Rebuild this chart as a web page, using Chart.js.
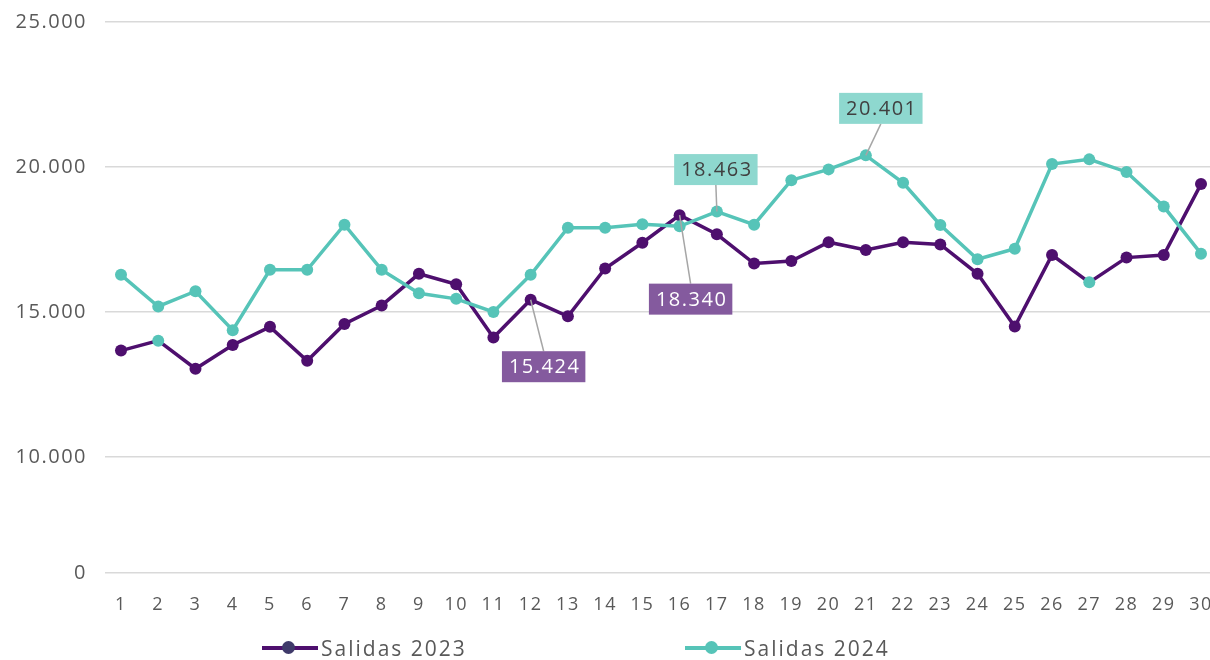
<!DOCTYPE html>
<html>
<head>
<meta charset="utf-8">
<script src="https://cdn.jsdelivr.net/npm/chart.js@4.4.1/dist/chart.umd.min.js"></script>
<style>
  html, body { margin: 0; padding: 0; background: #fff; overflow: hidden; }
  #wrap { position: relative; width: 1240px; height: 660px; }
  .leg { position: absolute; top: 634px; height: 28px; display: flex; align-items: center;
         font-family: "Open Sans", sans-serif; font-size: 21px; letter-spacing: 2px; color: #595959; }
  .leg .mk { position: relative; width: 56px; height: 28px; margin-right: 3px; }
  .leg .mk i { position: absolute; left: 0; right: 0; top: 12px; height: 4px; }
  .leg .mk b { position: absolute; left: 20px; top: 7px; width: 13px; height: 13px; border-radius: 50%; }
</style>
</head>
<body>
<div id="wrap">
  <canvas id="chart" width="1240" height="660"></canvas>
  <div class="leg" style="left:262px"><span class="mk"><i style="background:#4E0F6E"></i><b style="background:#3F3A6A"></b></span>Salidas 2023</div>
  <div class="leg" style="left:685px"><span class="mk"><i style="background:#56C4B8"></i><b style="background:#56C4B8"></b></span>Salidas 2024</div>
</div>
<script>
document.addEventListener("DOMContentLoaded", function() {
    const days = [1, 2, 3, 4, 5, 6, 7, 8, 9, 10, 11, 12, 13, 14, 15,
                  16, 17, 18, 19, 20, 21, 22, 23, 24, 25, 26, 27, 28, 29, 30];
    const salidas2023 = [13670, 14011, 13043, 13861, 14488, 13315, 14590, 15226, 16317, 15955,
                         14124, 15424, 14850, 16500, 17387, 18340, 17681, 16671, 16760, 17408,
                         17135, 17408, 17329, 16317, 14499, 16966, 16023, 16876, 16966, 19410];
    const salidas2024 = [16282, 15191, 15716, 14373, 16453, 16453, 18012, 16453, 15648, 15454,
                         15000, 16282, 17909, 17909, 18022, 17954, 18463, 18012, 19546, 19918,
                         20401, 19454, 18001, 16818, 17182, 20102, 20263, 19829, 18636, 17012];
    // broken axis: the bottom gridline stands for 0
    const yTicks = [6000, 10000, 15000, 20000, 25000];
    const yTickLabels = ['0', '10.000', '15.000', '20.000', '25.000'];

    const purple = '#4E0F6E';
    const teal = '#56C4B8';

    const fmt = v => String(v).replace(/\B(?=(\d{3})+(?!\d))/g, '.');

    // labelled points: dataset, day, box offset from the point
    const callouts = [
        { ds: 0, day: 12, dx: 13, dy: 67, bg: '#845A9E', fg: '#FFFFFF' },
        { ds: 0, day: 16, dx: 11, dy: 84, bg: '#845A9E', fg: '#FFFFFF' },
        { ds: 1, day: 17, dx: -1, dy: -42, bg: '#8ED8CF', fg: '#404040' },
        { ds: 1, day: 21, dx: 15, dy: -47, bg: '#8ED8CF', fg: '#404040' }
    ];

    const calloutPlugin = {
        id: 'callouts',
        beforeDraw(chart) {
            chart.ctx.letterSpacing = '1.5px';
        },
        afterDatasetsDraw(chart) {
            const ctx = chart.ctx;
            ctx.save();
            ctx.font = '20px "Open Sans", sans-serif';
            ctx.textAlign = 'center';
            ctx.textBaseline = 'middle';
            callouts.forEach(c => {
                const i = days.indexOf(c.day);
                const pt = chart.getDatasetMeta(c.ds).data[i];
                const value = chart.data.datasets[c.ds].data[i].y;
                const text = fmt(value);
                const w = ctx.measureText(text).width + 12;
                const h = 31;
                const bx = pt.x + c.dx, by = pt.y + c.dy;
                const ey = c.dy > 0 ? by - h / 2 : by + h / 2;
                ctx.strokeStyle = '#A6A6A6';
                ctx.lineWidth = 1.5;
                ctx.beginPath();
                ctx.moveTo(pt.x, pt.y);
                ctx.lineTo(bx, ey);
                ctx.stroke();
                ctx.fillStyle = c.bg;
                ctx.fillRect(bx - w / 2, by - h / 2, w, h);
                ctx.fillStyle = c.fg;
                ctx.fillText(text, bx + 1, by + 1);
            });
            ctx.restore();
        }
    };

    const toPoints = arr => days.map((d, i) => ({ x: d, y: arr[i] }));

    const ctx = document.getElementById('chart').getContext('2d');
    new Chart(ctx, {
        type: 'line',
        data: {
            datasets: [{
                label: 'Salidas 2023',
                data: toPoints(salidas2023),
                borderColor: purple,
                backgroundColor: purple,
                pointBackgroundColor: days.map(d => (d === 2 || d === 27) ? teal : purple),
                pointBorderColor: days.map(d => (d === 2 || d === 27) ? teal : purple),
                borderWidth: 3.5,
                pointRadius: 6,
                pointBorderWidth: 0,
                tension: 0,
                order: 1
            }, {
                label: 'Salidas 2024',
                data: toPoints(salidas2024),
                borderColor: teal,
                backgroundColor: teal,
                pointBackgroundColor: teal,
                pointBorderColor: teal,
                borderWidth: 3.5,
                pointRadius: 6,
                pointBorderWidth: 0,
                tension: 0,
                order: 0
            }]
        },
        options: {
            responsive: false,
            animation: false,
            layout: { padding: { top: 22, right: 30, bottom: 47, left: 0 } },
            plugins: {
                legend: { display: false },
                tooltip: { enabled: false }
            },
            scales: {
                x: {
                    type: 'linear',
                    min: 0.5704,
                    max: 30.2417,
                    afterBuildTicks: s => { s.ticks = days.map(v => ({ value: v })); },
                    afterFit: s => { s.height = 40; s.paddingLeft = 0; s.paddingRight = 0; },
                    grid: { display: false },
                    border: { display: false },
                    ticks: {
                        color: '#595959',
                        font: { family: '"Open Sans", sans-serif', size: 18 },
                        padding: 13,
                        maxRotation: 0,
                        autoSkip: false
                    }
                },
                y: {
                    min: 6000,
                    max: 25000,
                    afterBuildTicks: s => { s.ticks = yTicks.map(v => ({ value: v })); },
                    afterFit: s => { s.width = 105; s.paddingTop = 0; s.paddingBottom = 0; },
                    grid: { color: '#D9D9D9', lineWidth: 1.5, drawTicks: false },
                    border: { display: false },
                    ticks: {
                        color: '#595959',
                        font: { family: '"Open Sans", sans-serif', size: 20 },
                        padding: 18,
                        callback: v => yTickLabels[yTicks.indexOf(v)]
                    }
                }
            }
        },
        plugins: [calloutPlugin]
    });
});
</script>
</body>
</html>
